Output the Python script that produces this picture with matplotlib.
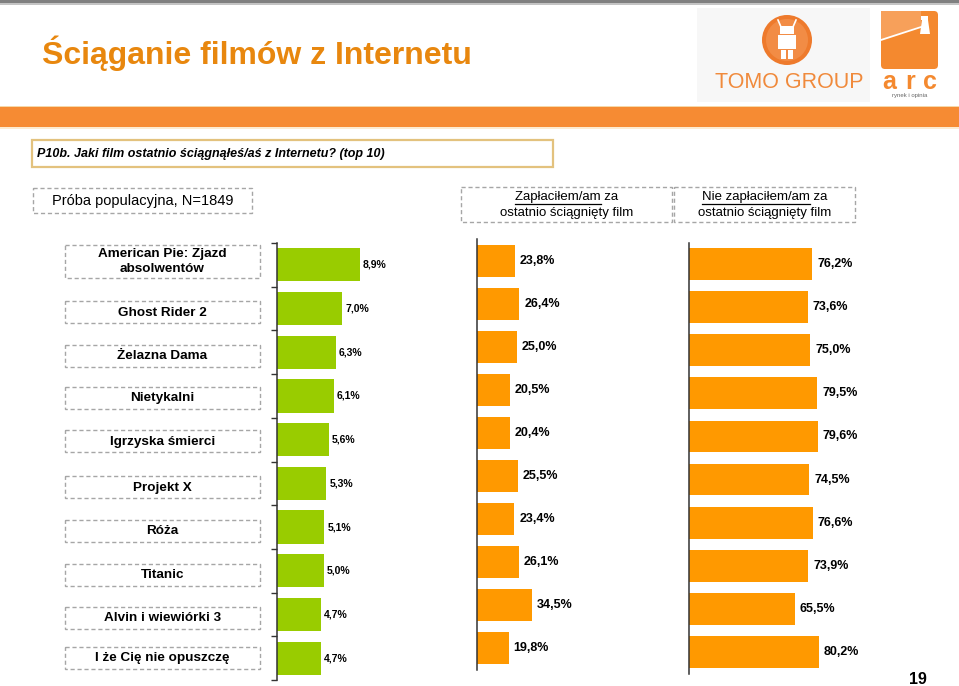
import matplotlib
matplotlib.use('Agg')
import matplotlib.pyplot as plt
from matplotlib.patches import Rectangle, Circle, FancyBboxPatch, Polygon
import numpy as np

plt.rcParams['font.family'] = ['Liberation Sans', 'DejaVu Sans']

# data
films = ['American Pie: Zjazd\nabsolwentów', 'Ghost Rider 2', 'Żelazna Dama', 'Nietykalni',
         'Igrzyska śmierci', 'Projekt X', 'Róża', 'Titanic', 'Alvin i wiewiórki 3',
         'I że Cię nie opuszczę']
share_total = [8.9, 7.0, 6.3, 6.1, 5.6, 5.3, 5.1, 5.0, 4.7, 4.7]
share_paid = [23.8, 26.4, 25.0, 20.5, 20.4, 25.5, 23.4, 26.1, 34.5, 19.8]
share_unpaid = [76.2, 73.6, 75.0, 79.5, 79.6, 74.5, 76.6, 73.9, 65.5, 80.2]

title = 'Ściąganie filmów z Internetu'
question = 'P10b. Jaki film ostatnio ściągnąłeś/aś z Internetu? (top 10)'
sample = 'Próba populacyjna, N=1849'

W, H = 959, 686
GREEN = '#99CC00'
ORANGE = '#FF9900'
TITLE_OR = '#E8870E'

fig = plt.figure(figsize=(W / 100, H / 100), dpi=100)
bg = fig.add_axes([0, 0, 1, 1])
bg.set_xlim(0, W)
bg.set_ylim(H, 0)
bg.axis('off')


def frac(x0, y0, x1, y1):
    return [x0 / W, 1 - y1 / H, (x1 - x0) / W, (y1 - y0) / H]


def dashed_box(x0, y0, x1, y1):
    bg.add_patch(Rectangle((x0, y0), x1 - x0, y1 - y0, fill=False, ec='#A6A6A6',
                           lw=1, ls=(0, (3, 2))))


# page decoration
bg.add_patch(Rectangle((0, 0), W, 3, color='#808080', lw=0))
bg.add_patch(Rectangle((0, 3), W, 2, color='#C4C4C4', lw=0))
bg.add_patch(Rectangle((0, 105.5), W, 1.5, color='#F6D8A8', lw=0))
bg.add_patch(Rectangle((0, 107), W, 20, color='#F68B33', lw=0))
bg.add_patch(Rectangle((0, 127), W, 2, color='#FDEBD0', lw=0))
bg.text(42, 64, title, fontsize=23, fontweight='bold', color=TITLE_OR, va='baseline')

# logos (approximation)
bg.add_patch(Rectangle((697, 8), 173, 94, color='#F7F7F7', lw=0))
bg.add_patch(Circle((787, 40), 25, color='#EE7A2C', lw=0))
bg.add_patch(Circle((787, 40), 21, color='#F28C45', lw=0))
bg.add_patch(Rectangle((780, 26), 14, 8, color='white', lw=0))
bg.add_patch(Rectangle((778, 35), 18, 14, color='white', lw=0))
bg.add_patch(Rectangle((781, 50), 5, 9, color='white', lw=0))
bg.add_patch(Rectangle((788, 50), 5, 9, color='white', lw=0))
bg.plot([781, 778], [27, 20], color='white', lw=1.2)
bg.plot([793, 796], [27, 20], color='white', lw=1.2)
bg.text(789, 83, 'TOMO GROUP', fontsize=15.5, color='#F08A3C', ha='center', va='center')
bg.add_patch(FancyBboxPatch((881, 11), 57, 58, boxstyle='round,pad=0,rounding_size=4',
                            color='#F4892F', lw=0))
bg.add_patch(Polygon([(881, 11), (921, 11), (921, 26), (881, 40)], closed=True,
                     color='#F7A05A', lw=0))
bg.plot([881, 921], [40, 27], color='white', lw=1.3)
bg.add_patch(Polygon([(920, 34), (922, 20), (928, 20), (930, 34)], closed=True,
                     color='white', lw=0))
bg.add_patch(Rectangle((921, 16), 7, 4, color='white', lw=0))
for ch, xc in zip('arc', [889, 910, 930]):
    bg.text(xc, 82, ch, fontsize=18, fontweight='bold', color='#F4892F', ha='center',
            va='center')
bg.text(910, 96, 'rynek i opinia', fontsize=4.3, color='#666666', ha='center', va='center')

# question box
bg.add_patch(Rectangle((32, 140), 521, 27, fill=False, ec='#E3C27E', lw=1.6))
bg.text(37, 153.5, question, fontsize=9, fontweight='bold', style='italic', va='center')

# column headers
dashed_box(33, 188, 252, 213)
bg.text(142.5, 201, sample, fontsize=10.5, ha='center', va='center')

fig.canvas.draw()
renderer = fig.canvas.get_renderer()


def header(x0, x1, y0, y1, word, rest, line2):
    dashed_box(x0, y0, x1, y1)
    cx = (x0 + x1) / 2
    ya = y0 + 10
    yb = y0 + 26
    t = bg.text(cx, ya, word + rest, fontsize=9.5, ha='center', va='center')
    bg.text(cx, yb, line2, fontsize=9.5, ha='center', va='center')
    bb = t.get_window_extent(renderer)
    tmp = bg.text(0, 0, word, fontsize=9.5)
    w = tmp.get_window_extent(renderer).width
    tmp.remove()
    bg.plot([bb.x0, bb.x0 + w], [ya + 6.5, ya + 6.5], color='black', lw=0.9)


header(461, 672, 187, 222, 'Zapłaciłem/am', ' za', 'ostatnio ściągnięty film')
header(674, 855, 187, 222, 'Nie zapłaciłem/am', ' za', 'ostatnio ściągnięty film')

# film label boxes
box_y = [261, 312, 355.5, 397.5, 441, 487, 531, 575, 617.5, 657.5]
for i, (name, yc) in enumerate(zip(films, box_y)):
    h = 33 if i == 0 else 22
    dashed_box(65, yc - h / 2, 260, yc + h / 2)
    bg.text(162.5, yc + 0.5, name, fontsize=9.7, fontweight='bold', ha='center',
            va='center', linespacing=1.3)


def fmt(v):
    return f'{v:.1f}%'.replace('.', ',')


def bar_panel(rect, px_per_pct, values, color, height, lab_size, lab_off, ticks):
    ax = fig.add_axes(frac(*rect))
    ax.patch.set_alpha(0)
    y = np.arange(len(values))
    ax.barh(y, values, height=height, color=color, lw=0)
    ax.set_xlim(0, (rect[2] - rect[0]) / px_per_pct)
    ax.set_ylim(len(values) - 0.5, -0.5)
    for s in ['top', 'right', 'bottom']:
        ax.spines[s].set_visible(False)
    ax.spines['left'].set_color('#333333')
    ax.spines['left'].set_linewidth(1.1)
    ax.set_xticks([])
    if ticks:
        ax.set_yticks(np.arange(len(values) + 1) - 0.5)
        ax.tick_params(axis='y', length=4, width=1, color='#333333', labelleft=False)
    else:
        ax.set_yticks([])
    for yi, v in zip(y, values):
        ax.annotate(fmt(v), (v, yi), xytext=(lab_off, 0), textcoords='offset points',
                    ha='left', va='center', fontsize=lab_size, fontweight='bold')
    return ax


bar_panel((277, 243, 457, 680), 9.3, share_total, GREEN, 0.76, 7.5, 2.2, True)
bar_panel((477, 239.5, 627, 669.5), 1.6, share_paid, ORANGE, 0.74, 9, 3.6, False)
bar_panel((689, 242.5, 939, 673.5), 1.615, share_unpaid, ORANGE, 0.74, 9, 3.6, False)

bg.text(918, 680, '19', fontsize=11.5, fontweight='bold', ha='center', va='center')

fig.savefig('out.png', dpi=100, facecolor='white')
